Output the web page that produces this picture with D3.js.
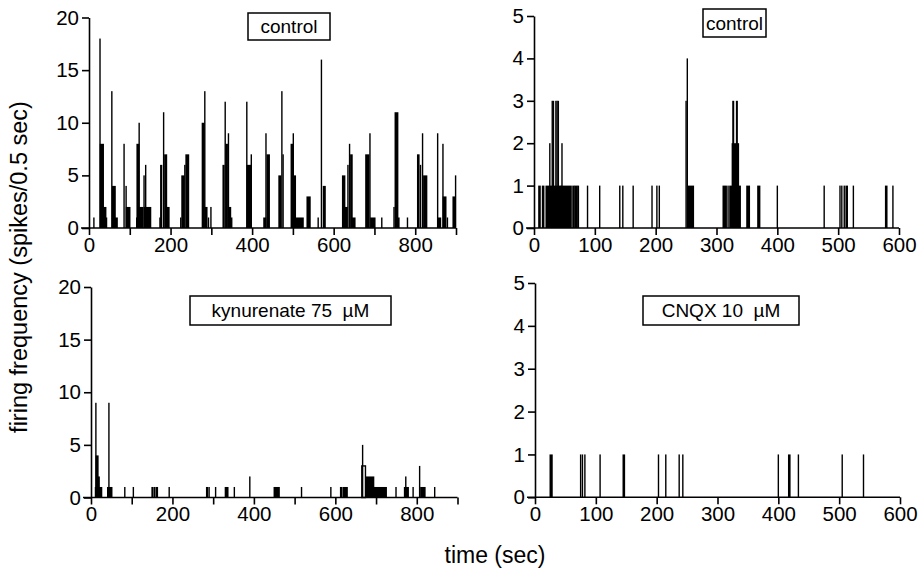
<!DOCTYPE html>
<html>
<head>
<meta charset="utf-8">
<script src="https://cdn.jsdelivr.net/npm/d3@7"></script>
<style>
  html, body { margin: 0; padding: 0; background: #fff; }
  svg { display: block; font-family: "Liberation Sans", Arial, sans-serif; }
</style>
</head>
<body>
<div id="chart"></div>
<script>
// firing histograms, segments are [start sec, end sec, spikes per 0.5 sec]
const controlSlow = [
  [12, 12, 1],
  [27, 27, 18], [28, 35, 8], [35, 41, 2], [41, 43, 1],
  [56, 56, 13], [58, 64, 4], [65, 69, 1],
  [86, 86, 8], [91, 91, 4], [92, 100, 2],
  [117, 117, 1], [118, 122, 8], [123, 123, 10], [124, 132, 2], [135, 135, 5], [136, 138, 2], [139, 139, 6], [141, 151, 2],
  [174, 174, 1], [176, 178, 6], [183, 183, 11], [186, 190, 7], [190, 196, 2],
  [225, 225, 1], [228, 233, 5], [235, 235, 6], [238, 244, 7],
  [278, 282, 10], [284, 284, 13], [285, 289, 2], [293, 293, 1], [299, 299, 2],
  [329, 331, 6], [334, 334, 12], [336, 339, 8], [342, 342, 9], [344, 347, 2], [350, 350, 1],
  [387, 387, 12], [388, 396, 6], [398, 398, 7],
  [429, 433, 1], [434, 434, 9], [437, 442, 7],
  [466, 470, 5], [473, 473, 13], [476, 476, 7],
  [496, 499, 8], [501, 501, 9], [503, 506, 5], [509, 525, 1],
  [535, 542, 3],
  [562, 562, 1], [570, 570, 16], [575, 579, 4],
  [622, 627, 5], [628, 633, 2], [635, 635, 6], [639, 639, 8], [642, 645, 7], [646, 652, 1],
  [679, 686, 7], [689, 689, 9], [691, 701, 1], [718, 718, 1],
  [748, 748, 2], [751, 757, 11], [758, 760, 1], [781, 781, 1],
  [806, 809, 7], [813, 813, 6], [818, 818, 9], [821, 828, 5],
  [855, 855, 9], [856, 862, 1], [868, 868, 8], [869, 875, 3], [879, 879, 1],
  [893, 898, 3], [899, 899, 5]
];

const controlFast = [
  [8, 10, 1], [14, 16, 1], [20, 44, 1], [45, 61, 1], [64, 66, 1], [68, 70, 1], [72, 73, 1],
  [26, 26, 2], [30, 30, 3], [32, 32, 3], [36, 36, 3], [38, 38, 3], [40, 40, 3], [46, 46, 2],
  [88, 88, 1], [108, 108, 1], [141, 141, 1], [146, 146, 1], [163, 163, 1],
  [194, 194, 1], [202, 202, 1], [206, 206, 1],
  [250, 250, 3], [252, 252, 4], [253, 262, 1],
  [311, 316, 1], [319, 319, 1], [322, 339, 1], [326, 336, 2], [327, 328, 3], [333, 334, 3],
  [350, 354, 1], [368, 371, 1], [400, 400, 1], [477, 477, 1],
  [503, 503, 1], [506, 506, 1], [510, 510, 1], [513, 515, 1], [525, 525, 1],
  [578, 580, 1], [590, 590, 1]
];

const kynurenate = [
  [11, 20, 1], [12, 12, 9], [13, 17, 4], [18, 20, 2], [21, 26, 1],
  [41, 51, 1], [44, 44, 9],
  [83, 83, 1], [104, 104, 1], [150, 152, 1], [156, 156, 1], [160, 163, 1], [192, 192, 1],
  [284, 286, 1], [290, 290, 1], [306, 306, 1], [330, 336, 1], [352, 352, 1], [390, 390, 2],
  [450, 462, 1], [517, 517, 1], [589, 589, 1], [613, 616, 1], [620, 629, 1],
  [667, 667, 5], [675, 694, 2], [694, 725, 1],
  [749, 749, 1], [770, 779, 1], [773, 773, 2], [791, 791, 1],
  [807, 807, 3], [810, 820, 1], [844, 844, 1]
];
// the one bin drawn as an open box
const kynurenateOpen = [[665, 674, 3]];

const cnqx = [
  [25, 28, 1], [75, 75, 1], [78, 78, 1], [82, 82, 1], [107, 107, 1],
  [145, 147, 1], [203, 203, 1], [215, 215, 1], [237, 237, 1], [243, 243, 1],
  [400, 400, 1], [417, 419, 1], [433, 433, 1], [505, 505, 1], [540, 540, 1]
];

const slowTicks = [0, 100, 200, 300, 400, 500, 600, 700, 800, 900];
const slowLabels = [0, 200, 400, 600, 800];
const fastTicks = [0, 100, 200, 300, 400, 500, 600];
const highYTicks = [0, 5, 10, 15, 20];
const lowYTicks = [0, 1, 2, 3, 4, 5];

const panelTitles = ['control', 'control', 'kynurenate 75\u00a0\u00a0\u00b5M', 'CNQX 10\u00a0\u00a0\u00b5M'];

/**
 * One histogram panel.
 */
class HistogramPanel {

  constructor(svg, options) {
    this.svg = svg;
    this.options = options;
    this.createScales();
    this.renderBars();
    this.renderAxis();
    this.renderTitle();
  }

  createScales() {
    let o = this.options;
    this.xChart = d3.scaleLinear()
      .domain([0, o.xMax])
      .range([o.left, o.right]);
    this.yChart = d3.scaleLinear()
      .domain([0, o.yMax])
      .range([o.bottom, o.top]);
  }

  renderAxis() {
    let o = this.options;
    let labels = new Set(o.xLabels);

    let xAxis = this.svg.append('g')
      .attr('transform', `translate(0,${o.bottom})`)
      .call(d3.axisBottom(this.xChart)
        .tickValues(o.xTicks)
        .tickSize(7)
        .tickSizeOuter(0)
        .tickPadding(2)
        .tickFormat(d => labels.has(d) ? d : ''));

    let yAxis = this.svg.append('g')
      .attr('transform', `translate(${o.left},0)`)
      .call(d3.axisLeft(this.yChart)
        .tickValues(o.yTicks)
        .tickSize(7)
        .tickSizeOuter(0)
        .tickPadding(3)
        .tickFormat(d3.format('d')));

    // x axis runs a little to the left of the y axis
    xAxis.select('.domain')
      .attr('d', `M${o.left - 8},0H${o.right}`);

    [xAxis, yAxis].forEach(function (axis) {
      axis.selectAll('.domain, line')
        .attr('stroke', '#000')
        .attr('stroke-width', 1.6);
      axis.selectAll('text')
        .attr('fill', '#000')
        .style('font-size', '20.5px');
    });
  }

  renderBars() {
    let o = this.options;
    let x = this.xChart;
    let y = this.yChart;

    this.svg.append('g')
      .selectAll('rect')
      .data(o.data)
      .enter()
      .append('rect')
      .attr('fill', '#000')
      .attr('x', d => x(d[0]) - 0.7)
      .attr('width', d => Math.max(1.4, x(d[1]) - x(d[0]) + 1.4))
      .attr('y', d => y(d[2]))
      .attr('height', d => y(0) - y(d[2]));

    if (!o.open) return;
    this.svg.append('g')
      .selectAll('rect')
      .data(o.open)
      .enter()
      .append('rect')
      .attr('fill', 'none')
      .attr('stroke', '#000')
      .attr('stroke-width', 1.4)
      .attr('x', d => x(d[0]))
      .attr('width', d => x(d[1]) - x(d[0]))
      .attr('y', d => y(d[2]))
      .attr('height', d => y(0) - y(d[2]));
  }

  renderTitle() {
    let b = this.options.box;
    this.svg.append('rect')
      .attr('x', b.x)
      .attr('y', b.y)
      .attr('width', b.w)
      .attr('height', b.h)
      .attr('fill', '#fff')
      .attr('stroke', '#000')
      .attr('stroke-width', 1.5);
    this.svg.append('text')
      .attr('x', b.x + b.w / 2)
      .attr('y', b.y + b.h / 2 + 6.5)
      .attr('text-anchor', 'middle')
      .style('font-size', '19px')
      .text(this.options.title);
  }
}

const width = 922;
const height = 574;

const svg = d3.select('#chart')
  .append('svg')
  .attr('width', width)
  .attr('height', height)
  .attr('viewBox', `0 0 ${width} ${height}`);

new HistogramPanel(svg, {
  data: controlSlow, title: panelTitles[0],
  xMax: 900, yMax: 20, xTicks: slowTicks, xLabels: slowLabels, yTicks: highYTicks,
  left: 89, right: 456, top: 17.5, bottom: 228,
  box: {x: 248, y: 13, w: 82, h: 27}
});

new HistogramPanel(svg, {
  data: controlFast, title: panelTitles[1],
  xMax: 600, yMax: 5, xTicks: fastTicks, xLabels: fastTicks, yTicks: lowYTicks,
  left: 534, right: 899, top: 16, bottom: 228,
  box: {x: 703, y: 9, w: 63, h: 28}
});

new HistogramPanel(svg, {
  data: kynurenate, open: kynurenateOpen, title: panelTitles[2],
  xMax: 900, yMax: 20, xTicks: slowTicks, xLabels: slowLabels, yTicks: highYTicks,
  left: 91, right: 457.5, top: 287, bottom: 497.5,
  box: {x: 190, y: 296, w: 201, h: 29}
});

new HistogramPanel(svg, {
  data: cnqx, title: panelTitles[3],
  xMax: 600, yMax: 5, xTicks: fastTicks, xLabels: fastTicks, yTicks: lowYTicks,
  left: 535, right: 900, top: 283, bottom: 497.3,
  box: {x: 643, y: 296, w: 156, h: 29}
});

svg.append('text')
  .attr('transform', 'translate(27,267) rotate(-90)')
  .attr('text-anchor', 'middle')
  .style('font-size', '23.5px')
  .text('firing frequency (spikes/0.5 sec)');

svg.append('text')
  .attr('x', 495)
  .attr('y', 563)
  .attr('text-anchor', 'middle')
  .style('font-size', '23px')
  .text('time (sec)');
</script>
</body>
</html>
